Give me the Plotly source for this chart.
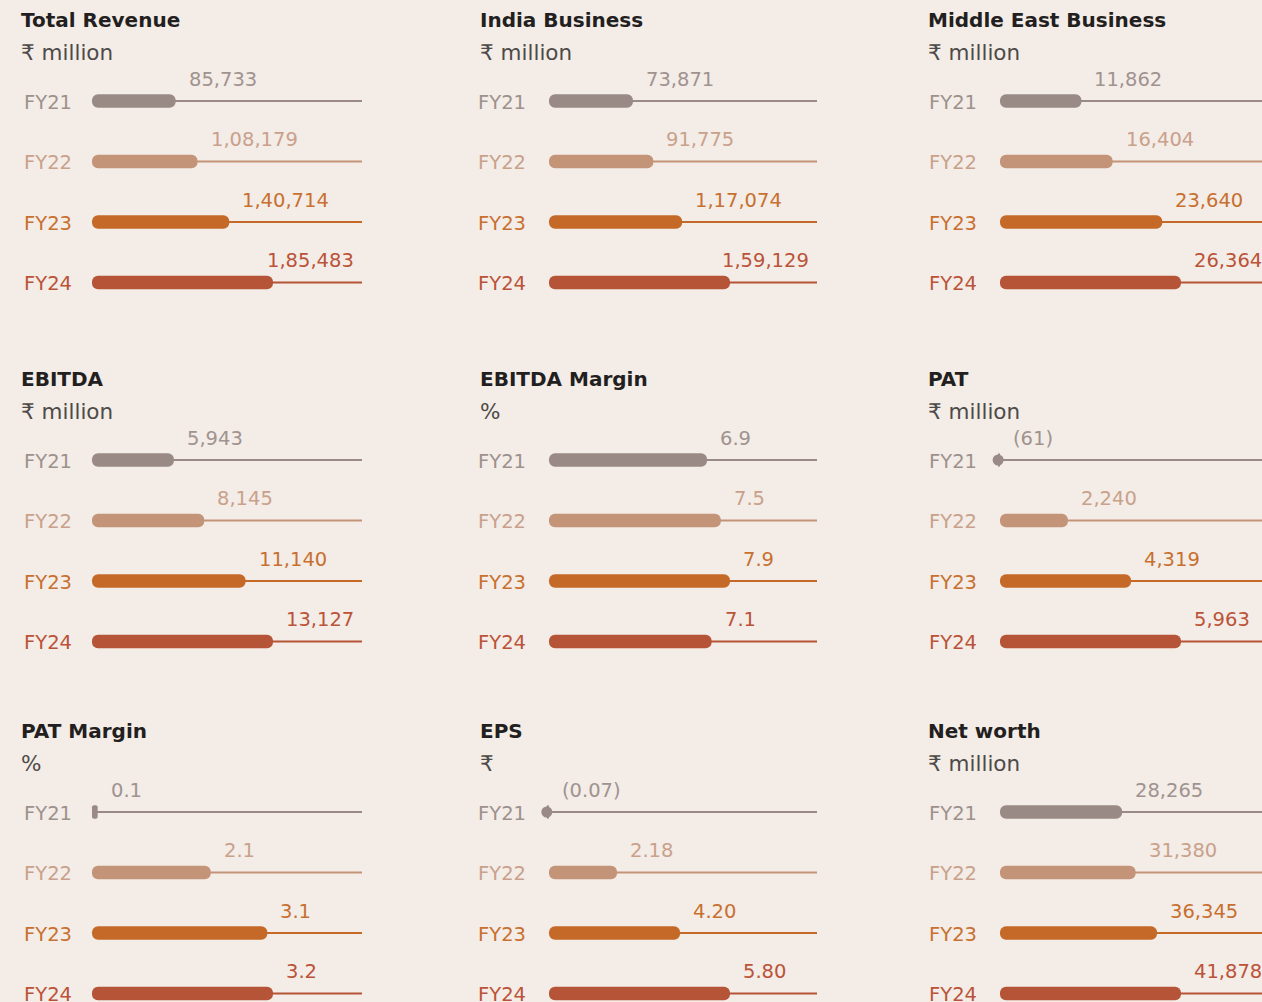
import plotly.graph_objects as go

# ---------------- data ----------------
years = ["FY21", "FY22", "FY23", "FY24"]

total_revenue = [85733, 108179, 140714, 185483]
india_business = [73871, 91775, 117074, 159129]
middle_east_business = [11862, 16404, 23640, 26364]
ebitda = [5943, 8145, 11140, 13127]
ebitda_margin = [6.9, 7.5, 7.9, 7.1]
pat = [-61, 2240, 4319, 5963]
pat_margin = [0.1, 2.1, 3.1, 3.2]
eps = [-0.07, 2.18, 4.20, 5.80]
net_worth = [28265, 31380, 36345, 41878]

titles = ["Total Revenue", "India Business", "Middle East Business",
          "EBITDA", "EBITDA Margin", "PAT",
          "PAT Margin", "EPS", "Net worth"]
units = ["₹ million", "₹ million", "₹ million",
         "₹ million", "%", "₹ million",
         "%", "₹", "₹ million"]
decimals = [0, 0, 0, 0, 1, 0, 1, 2, 0]
series = [total_revenue, india_business, middle_east_business,
          ebitda, ebitda_margin, pat,
          pat_margin, eps, net_worth]

# ---------------- style ----------------
W, H = 1262, 1002
BG = "#f3ece7"
FONT = "DejaVu Sans"
bar_colors = ["#998a85", "#c49479", "#c56928", "#b55437"]
label_colors = ["#9d918d", "#c9a18b", "#c8702f", "#bb5338"]
value_colors = ["#a0938f", "#c9a18b", "#c8702f", "#bb5338"]

col_bar_x0 = [92, 549, 1000]
col_dom_x1 = [362, 817, 1262]
col_track_end = [362, 817, 1270]
col_title_x = [21, 480, 928]
col_label_x = [24, 478, 929]
row_title_y = [20, 379, 731]
row_unit_y = [52, 411, 763]
row_first_bar = [101, 460, 812]
SPACING = 60.5
BAR_PX = 13.5
MAX_BAR_PX = 181
PAD = 12  # px of axis room left of zero
TXT_SHIFT = -2  # compensate annotation padding


def fmt_in(v, d):
    neg = v < 0
    a = abs(v)
    if d == 0:
        s = str(int(round(a)))
        if len(s) > 3:
            head, tail = s[:-3], s[-3:]
            groups = []
            while len(head) > 2:
                groups.insert(0, head[-2:])
                head = head[:-2]
            if head:
                groups.insert(0, head)
            s = ",".join(groups + [tail])
    else:
        s = f"{a:.{d}f}"
    return f"({s})" if neg else s


def text_width(s, size):
    w = 0
    for ch in s:
        if ch.isdigit():
            w += 0.636
        elif ch in ",.":
            w += 0.318
        elif ch in "()":
            w += 0.39
        else:
            w += 0.6
    return w * size


fig = go.Figure()
annotations = []
layout_axes = {}

for k in range(9):
    r, c = divmod(k, 3)
    vals = series[k]
    n = k + 1
    xa = "x" if n == 1 else f"x{n}"
    ya = "y" if n == 1 else f"y{n}"
    xkey = "xaxis" if n == 1 else f"xaxis{n}"
    ykey = "yaxis" if n == 1 else f"yaxis{n}"

    x0px, x1px = col_bar_x0[c], col_dom_x1[c]
    vmax = max(vals)
    px_per_unit = MAX_BAR_PX / vmax
    xmin = -PAD / px_per_unit
    xmax = (x1px - x0px) / px_per_unit

    top_px = row_first_bar[r] - SPACING / 2
    bot_px = min(top_px + 4 * SPACING, H)
    ybottom = -0.5 + (bot_px - top_px) / SPACING

    layout_axes[xkey] = dict(domain=[(x0px - PAD) / W, x1px / W],
                             range=[xmin, xmax],
                             visible=False, fixedrange=True)
    layout_axes[ykey] = dict(domain=[1 - bot_px / H, 1 - top_px / H],
                             range=[ybottom, -0.5], visible=False,
                             fixedrange=True)

    idx = list(range(4))
    # tracks
    for i in idx:
        fig.add_trace(go.Scatter(
            x=[min(vals[i], 0), xmax * 1.05], y=[i, i], mode="lines",
            line=dict(color=bar_colors[i], width=2),
            xaxis=xa, yaxis=ya, showlegend=False, hoverinfo="skip"))
    # bars (explicit base -> both ends rounded)
    fig.add_trace(go.Bar(
        x=vals, base=[0] * len(vals), y=idx, orientation="h",
        width=BAR_PX / SPACING,
        marker=dict(color=bar_colors, line=dict(width=0), cornerradius="50%"),
        xaxis=xa, yaxis=ya, showlegend=False,
        hovertemplate="%{x}<extra></extra>"))
    # negative values as dots
    neg_i = [i for i in idx if vals[i] < 0]
    if neg_i:
        fig.add_trace(go.Scatter(
            x=[vals[i] for i in neg_i], y=neg_i, mode="markers",
            marker=dict(color=[bar_colors[i] for i in neg_i], size=11,
                        symbol="circle", line=dict(width=0)),
            xaxis=xa, yaxis=ya, showlegend=False, cliponaxis=False,
            hoverinfo="skip"))

    # title & unit
    annotations.append(dict(
        text=f"<b>{titles[k]}</b>", xref="paper", yref="paper",
        x=col_title_x[c] / W, y=1 - row_title_y[r] / H, xshift=TXT_SHIFT,
        xanchor="left", yanchor="middle", showarrow=False,
        font=dict(family=FONT, size=20, color="#231f20")))
    annotations.append(dict(
        text=units[k], xref="paper", yref="paper",
        x=col_title_x[c] / W, y=1 - row_unit_y[r] / H, xshift=TXT_SHIFT,
        xanchor="left", yanchor="middle", showarrow=False,
        font=dict(family=FONT, size=21.5, color="#4d4a48")))

    for i in idx:
        # category labels
        annotations.append(dict(
            text=years[i], xref="paper", yref=ya,
            x=col_label_x[c] / W, y=i, yshift=-1, xshift=TXT_SHIFT,
            xanchor="left", yanchor="middle", showarrow=False,
            font=dict(family=FONT, size=19.5, color=label_colors[i])))
        # value labels
        txt = fmt_in(vals[i], decimals[k])
        fs = 19.5
        end_px = x0px + max(vals[i], 0) * px_per_unit
        tw = text_width(txt, fs)
        if end_px + 12 + tw > col_track_end[c] - 2:
            ann = dict(x=xmax, xanchor="right", xshift=-6)
        else:
            ann = dict(x=max(vals[i], 0), xanchor="left", xshift=11)
        ann.update(dict(
            text=txt, xref=xa, yref=ya, y=i, yshift=22, yanchor="middle",
            showarrow=False,
            font=dict(family=FONT, size=fs, color=value_colors[i])))
        annotations.append(ann)

fig.update_layout(
    width=W, height=H, margin=dict(l=0, r=0, t=0, b=0),
    paper_bgcolor=BG, plot_bgcolor=BG,
    barmode="overlay", annotations=annotations, showlegend=False,
    font=dict(family=FONT),
    **layout_axes)

fig.write_html(
    "out.html",
    config={"displayModeBar": False},
    post_script="document.body.style.margin='0';"
                "document.body.style.background='" + BG + "';")
